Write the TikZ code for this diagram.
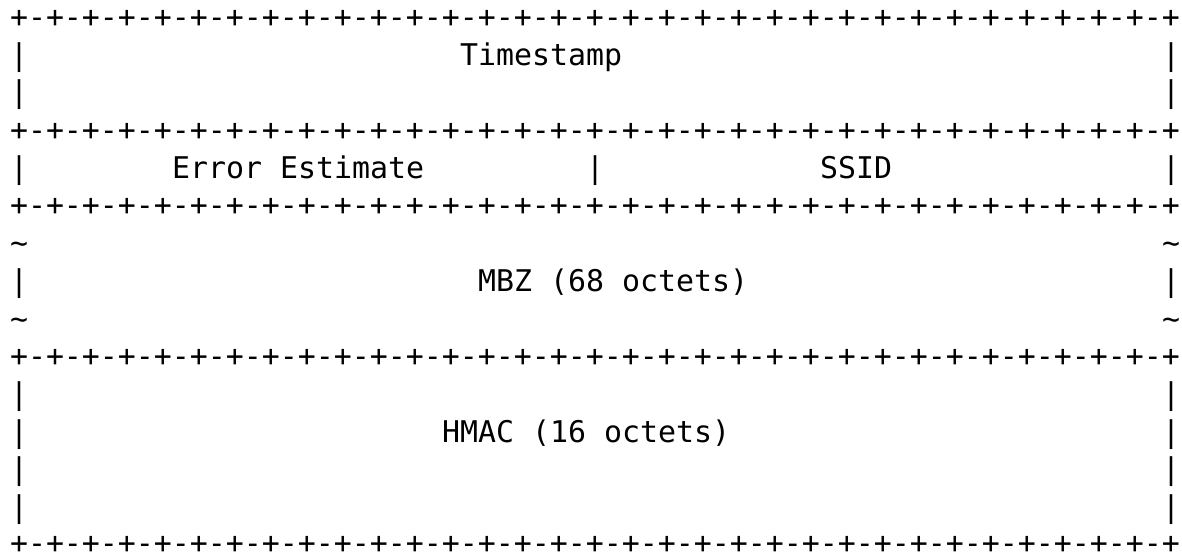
\documentclass[tikz,border=0pt]{standalone}
\usepackage{fontspec}
\newfontfamily\asciimono{DejaVu Sans Mono}
\tikzset{
  cell/.style={inner sep=0pt, outer sep=0pt, anchor=base west,
    font=\asciimono\fontsize{29.9}{36}\selectfont, text=black}
}
\begin{document}
\begin{tikzpicture}[x=1pt,y=-1pt]
\useasboundingbox (0,0) rectangle (1182,554);
\def\sepline{+-+-+-+-+-+-+-+-+-+-+-+-+-+-+-+-+-+-+-+-+-+-+-+-+-+-+-+-+-+-+-+-+}
% separator rows
\foreach \r in {0,3,5,9}
  \node[cell] (sep\r) at ({10+18*0},{27.4+37.7*\r}) {\sepline};
\node[cell] (sep14) at ({10+18*0},{27.4+37.7*14-2}) {\smash{\sepline}};
% left and right borders
\foreach \r in {1,2,4,7,10,11,12,13}{
  \node[cell] (lp\r) at ({10+18*0},{27.4+37.7*\r}) {|};
  \node[cell] (rp\r) at ({10+18*64},{27.4+37.7*\r}) {|};
}
% tildes
\foreach \r in {6,8}{
  \node[cell] (lt\r) at ({10+18*0},{27.4+37.7*\r}) {\textasciitilde};
  \node[cell] (rt\r) at ({10+18*64},{27.4+37.7*\r}) {\textasciitilde};
}
% labels
\node[cell] (timestamp) at ({10+18*25},{27.4+37.7*1}) {Timestamp};
\node[cell] (errest) at ({10+18*9},{27.4+37.7*4}) {Error Estimate};
\node[cell] (midpipe) at ({10+18*32},{27.4+37.7*4}) {|};
\node[cell] (ssid) at ({10+18*45},{27.4+37.7*4}) {SSID};
\node[cell] (mbz) at ({10+18*26},{27.4+37.7*7}) {MBZ (68 octets)};
\node[cell] (hmac) at ({10+18*24},{27.4+37.7*11}) {HMAC (16 octets)};
\end{tikzpicture}
\end{document}
